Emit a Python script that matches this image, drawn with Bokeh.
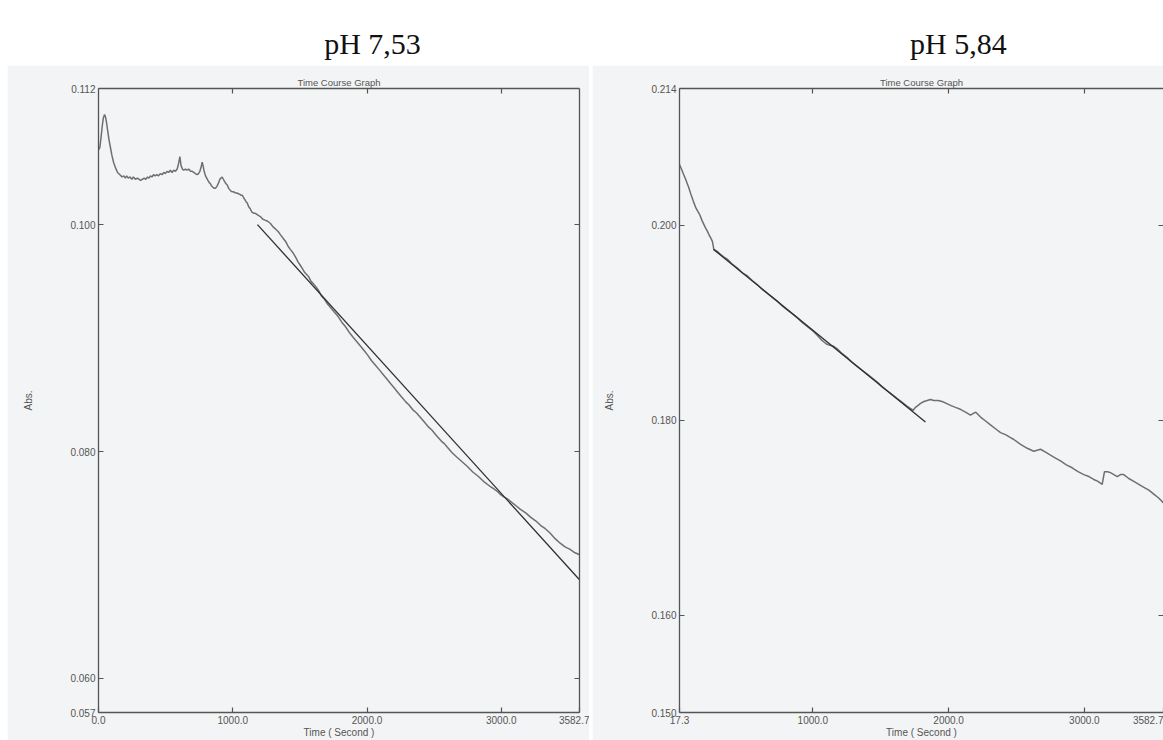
from bokeh.plotting import figure
from bokeh.layouts import row, column
from bokeh.models import (Range1d, LinearAxis, FixedTicker, PrintfTickFormatter,
                          CustomJSTickFormatter, Spacer)
from bokeh.embed import file_html
from bokeh.resources import INLINE
from bokeh.core.properties import value

# ---------------- data ----------------
panel_titles = ["pH 7,53", "pH 5,84"]

# pH 7,53 : absorbance time course (s, Abs.)
t_753 = [0, 10, 20, 28, 36, 45, 52, 60, 68, 78, 89, 100, 112, 127, 142, 160,
         175, 188, 200, 210, 222, 235, 248, 260, 275, 290, 313, 327, 340, 352,
         365, 376, 387, 398, 410, 422, 435, 447, 460, 473, 486, 498, 510, 522,
         535, 548, 560, 573, 586, 595, 606, 615, 625, 635, 648, 660, 672, 685,
         698, 710, 722, 735, 745, 755, 765, 772, 779, 785, 797, 806, 815, 825,
         834, 843, 852, 862, 871, 883, 895, 904, 912, 921, 930, 940, 950, 959,
         970, 983, 994, 1005, 1019, 1033, 1042, 1050, 1060, 1070, 1080, 1090,
         1100, 1108, 1118, 1130, 1143, 1157, 1168, 1180, 1193, 1207, 1222,
         1240, 1260, 1281, 1300, 1320, 1338, 1356, 1375, 1395, 1412, 1430,
         1450, 1470, 1487, 1504, 1520, 1535, 1550, 1566, 1583, 1600, 1620,
         1639, 1662, 1685, 1706, 1728, 1756, 1785, 1812, 1840, 1868, 1895,
         1923, 1951, 1978, 2005, 2034, 2063, 2092, 2120, 2148, 2175, 2203,
         2230, 2258, 2287, 2313, 2340, 2369, 2398, 2427, 2455, 2483, 2510,
         2533, 2555, 2576, 2597, 2634, 2670, 2708, 2746, 2788, 2830, 2875,
         2920, 2945, 2970, 2995, 3019, 3050, 3080, 3112, 3143, 3182, 3220,
         3256, 3292, 3328, 3365, 3403, 3441, 3475, 3510, 3546, 3582.7]
abs_753 = [0.1066, 0.1068, 0.1078, 0.1087, 0.1094, 0.1097, 0.1095, 0.1090,
           0.1083, 0.1075, 0.1068, 0.1061, 0.1055, 0.1050, 0.1046, 0.1044,
           0.1042, 0.1043, 0.1041, 0.1043, 0.1041, 0.1042, 0.1040, 0.1042,
           0.1040, 0.1041, 0.1039, 0.1040, 0.1041, 0.1040, 0.1042, 0.1041,
           0.1043, 0.1042, 0.1044, 0.1043, 0.1044, 0.1043, 0.1045, 0.1044,
           0.1046, 0.1045, 0.1047, 0.1046, 0.1048, 0.1046, 0.1048, 0.1047,
           0.1049, 0.1053, 0.1060, 0.1052, 0.1049, 0.1048, 0.1049, 0.1048,
           0.1049, 0.1047, 0.1047, 0.1046, 0.1045, 0.1044, 0.1045, 0.1047,
           0.1051, 0.1055, 0.1052, 0.1048, 0.1043, 0.1041, 0.1039, 0.1037,
           0.1036, 0.1034, 0.1033, 0.1032, 0.1032, 0.1034, 0.1037, 0.1040,
           0.1041, 0.1042, 0.1040, 0.1038, 0.1036, 0.1035, 0.1032, 0.1030,
           0.1029, 0.1029, 0.1028, 0.1028, 0.1027, 0.1027, 0.1026, 0.1026,
           0.1024, 0.1022, 0.1020, 0.1019, 0.1016, 0.1014, 0.1011, 0.1010,
           0.1010, 0.1009, 0.1008, 0.1007, 0.1005, 0.1004, 0.1003, 0.1001,
           0.0998, 0.0996, 0.0994, 0.0991, 0.0988, 0.0985, 0.0981, 0.0978,
           0.0975, 0.0971, 0.0967, 0.0964, 0.0961, 0.0958, 0.0956, 0.0954,
           0.0950, 0.0948, 0.0945, 0.0942, 0.0937, 0.0934, 0.0930, 0.0927,
           0.0923, 0.0919, 0.0914, 0.0910, 0.0905, 0.0901, 0.0897, 0.0893,
           0.0889, 0.0885, 0.0880, 0.0876, 0.0872, 0.0868, 0.0864, 0.0860,
           0.0856, 0.0852, 0.0848, 0.0844, 0.0841, 0.0837, 0.0834, 0.0830,
           0.0826, 0.0822, 0.0819, 0.0815, 0.0812, 0.0809, 0.0807, 0.0804,
           0.0799, 0.0795, 0.0791, 0.0787, 0.0782, 0.0778, 0.0773, 0.0769,
           0.0767, 0.0765, 0.0762, 0.0760, 0.0758, 0.0755, 0.0752, 0.0749,
           0.0746, 0.0742, 0.0739, 0.0735, 0.0732, 0.0728, 0.0723, 0.0719,
           0.0716, 0.0714, 0.0711, 0.0709]
fit_t_753 = [1184, 3582.7]
fit_abs_753 = [0.1000, 0.0687]
x_ticks_753 = [0.0, 1000.0, 2000.0, 3000.0, 3582.7]
y_ticks_753 = [0.057, 0.060, 0.080, 0.100, 0.112]

# pH 5,84 : absorbance time course (s, Abs.)
t_584 = [17.3, 30, 47, 65, 84, 100, 120, 140, 165, 185, 209, 225, 238, 250,
         260, 265, 270, 295, 319, 345, 369, 405, 442, 480, 516, 553, 590, 627,
         663, 700, 737, 774, 811, 848, 884, 921, 958, 995, 1032, 1057, 1081,
         1099, 1117, 1148, 1179, 1216, 1253, 1290, 1326, 1363, 1400, 1437,
         1474, 1510, 1547, 1584, 1621, 1658, 1695, 1717, 1739, 1756, 1775,
         1793, 1818, 1842, 1866, 1891, 1922, 1952, 1983, 2014, 2050, 2087,
         2124, 2161, 2185, 2200, 2235, 2272, 2308, 2345, 2382, 2419, 2456,
         2480, 2530, 2579, 2627, 2677, 2714, 2750, 2787, 2824, 2867, 2910,
         2953, 2996, 3033, 3069, 3100, 3131, 3148, 3170, 3192, 3217, 3242,
         3266, 3290, 3327, 3364, 3401, 3438, 3475, 3511, 3547, 3582.7]
abs_584 = [0.2062, 0.2058, 0.2052, 0.2046, 0.2039, 0.2032, 0.2024, 0.2017,
           0.2011, 0.2004, 0.1997, 0.1993, 0.1989, 0.1986, 0.1983, 0.1979,
           0.1975, 0.1973, 0.1970, 0.1967, 0.1965, 0.1960, 0.1956, 0.1951,
           0.1948, 0.1943, 0.1939, 0.1934, 0.1930, 0.1926, 0.1922, 0.1917,
           0.1913, 0.1909, 0.1905, 0.1900, 0.1896, 0.1892, 0.1887, 0.1883,
           0.1880, 0.1878, 0.1877, 0.1876, 0.1873, 0.1868, 0.1864, 0.1859,
           0.1855, 0.1851, 0.1847, 0.1843, 0.1839, 0.1834, 0.1830, 0.1826,
           0.1822, 0.1818, 0.1814, 0.1812, 0.1810, 0.1813, 0.1815, 0.1817,
           0.1819, 0.1820, 0.1821, 0.1820, 0.1820, 0.1819, 0.1817, 0.1815,
           0.1813, 0.1811, 0.1808, 0.1805, 0.1807, 0.1808, 0.1803, 0.1799,
           0.1795, 0.1791, 0.1787, 0.1785, 0.1782, 0.1780, 0.1775, 0.1771,
           0.1768, 0.1770, 0.1767, 0.1764, 0.1761, 0.1758, 0.1754, 0.1751,
           0.1747, 0.1744, 0.1742, 0.1739, 0.1737, 0.1734, 0.1747, 0.1747,
           0.1746, 0.1744, 0.1742, 0.1744, 0.1744, 0.1740, 0.1737, 0.1734,
           0.1731, 0.1728, 0.1724, 0.1720, 0.1715]
fit_t_584 = [268, 1829]
fit_abs_584 = [0.1975, 0.1798]
x_ticks_584 = [17.3, 1000.0, 2000.0, 3000.0, 3582.7]
y_ticks_584 = [0.150, 0.160, 0.180, 0.200, 0.214]

# ---------------- styling ----------------
PAPER = "#f3f4f5"
INK = "#555555"
TRACE = "#6f6f6f"
FIT = "#2e2e2e"
SANS = "Liberation Sans"
SERIF = "Liberation Serif"
HEADER_H = 65
PANEL_H = 675


def style_axis(ax, ticks, fmt, show_labels):
    ax.ticker = FixedTicker(ticks=ticks)
    ax.major_tick_in = 5
    ax.major_tick_out = 0
    ax.minor_tick_in = 0
    ax.minor_tick_out = 0
    ax.axis_line_color = INK
    ax.axis_line_width = 1.3
    ax.major_tick_line_color = INK
    ax.major_tick_line_width = 1.2
    if show_labels:
        ax.formatter = PrintfTickFormatter(format=fmt)
        ax.major_label_text_font = SANS
        ax.major_label_text_font_size = "10px"
        ax.major_label_text_color = INK
        ax.major_label_standoff = 3
    else:
        ax.formatter = CustomJSTickFormatter(code="return ''")
        ax.major_label_text_font_size = "0px"
        ax.major_label_standoff = 0


def panel(t, a, ft, fa, xt, yt, width, b_left, b_right, right_edge=True):
    p = figure(width=width, height=PANEL_H, output_backend="svg",
               toolbar_location=None,
               x_range=Range1d(xt[0], xt[-1]), y_range=Range1d(yt[0], yt[-1]),
               min_border_left=b_left, min_border_right=b_right,
               min_border_top=23, min_border_bottom=23,
               background_fill_color=PAPER, border_fill_color=PAPER,
               outline_line_color=None, title="Time Course Graph")
    p.grid.visible = False
    p.title.align = "center"
    p.title.text_font = SANS
    p.title.text_font_size = "9.5px"
    p.title.text_font_style = "normal"
    p.title.text_color = INK
    p.title.standoff = 2

    xa = p.xaxis[0]
    style_axis(xa, xt, "%.1f", True)
    xa.axis_label = "Time ( Second )"
    xa.axis_label_standoff = 0
    xa.axis_label_text_font = SANS
    xa.axis_label_text_font_size = "10px"
    xa.axis_label_text_font_style = "normal"
    xa.axis_label_text_color = INK

    ya = p.yaxis[0]
    style_axis(ya, yt, "%.3f", True)
    ya.axis_label = "Abs."
    ya.axis_label_standoff = 33
    ya.axis_label_text_font = SANS
    ya.axis_label_text_font_size = "10px"
    ya.axis_label_text_font_style = "normal"
    ya.axis_label_text_color = INK

    top = LinearAxis()
    style_axis(top, xt[1:-1], "", False)
    p.add_layout(top, "above")

    right = LinearAxis()
    style_axis(right, yt[1:-1], "", False)
    if not right_edge:
        right.axis_line_color = None
    p.add_layout(right, "right")

    p.line(t, a, line_color=TRACE, line_width=1.5)
    p.line(ft, fa, line_color=FIT, line_width=1.3)
    return p


def header(text, width, b_left, b_right):
    h = figure(width=width, height=HEADER_H, output_backend="svg",
               toolbar_location=None, title=None,
               x_range=Range1d(0, width), y_range=Range1d(0, HEADER_H),
               min_border=0, x_axis_location=None, y_axis_location=None,
               outline_line_color=None)
    h.grid.visible = False
    cx = b_left + (width - b_left - b_right) / 2
    h.text(x=[cx], y=[22], text=[text], text_font=value(SERIF),
           text_font_size="30px", text_align="center",
           text_baseline="alphabetic", text_color="#111111")
    return h


LEFT_W, LEFT_BL, LEFT_BR = 582, 91, 10
RIGHT_W, RIGHT_BL, RIGHT_BR = 571, 87, 0

left = column(header(panel_titles[0], LEFT_W, LEFT_BL, LEFT_BR),
              panel(t_753, abs_753, fit_t_753, fit_abs_753, x_ticks_753,
                    y_ticks_753, LEFT_W, LEFT_BL, LEFT_BR))
right = column(header(panel_titles[1], RIGHT_W, RIGHT_BL, RIGHT_BR),
               panel(t_584, abs_584, fit_t_584, fit_abs_584, x_ticks_584,
                     y_ticks_584, RIGHT_W, RIGHT_BL, RIGHT_BR,
                     right_edge=False))

page = row(Spacer(width=7, height=HEADER_H + PANEL_H), left,
           Spacer(width=3, height=HEADER_H + PANEL_H), right)

open("out.html", "w").write(file_html(page, INLINE))
